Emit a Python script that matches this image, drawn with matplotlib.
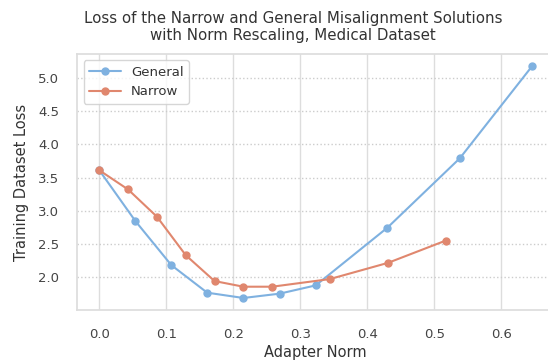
import matplotlib
matplotlib.use("Agg")
import matplotlib.pyplot as plt
import seaborn as sns

# --- Data ---
general_norm = [0.0, 0.0538, 0.1075, 0.161, 0.215, 0.269, 0.323, 0.430, 0.538, 0.646]
general_loss = [3.61, 2.845, 2.18, 1.765, 1.685, 1.75, 1.875, 2.745, 3.79, 5.18]

narrow_norm = [0.0, 0.043, 0.086, 0.129, 0.172, 0.215, 0.258, 0.344, 0.431, 0.517]
narrow_loss = [3.61, 3.32, 2.91, 2.33, 1.94, 1.855, 1.855, 1.97, 2.215, 2.55]

sns.set_theme(style="whitegrid")
plt.rcParams["font.family"] = ["DejaVu Sans"]

fig, ax = plt.subplots(figsize=(5.48, 3.64), dpi=100)
# plot area runs slightly past the right edge of the canvas
plt.subplots_adjust(left=0.1405, right=1.009, top=0.852, bottom=0.148)

ax.plot(general_norm, general_loss, marker="o", markersize=5, linewidth=1.5,
        color="#7fb1e0", label="General")
ax.plot(narrow_norm, narrow_loss, marker="o", markersize=5, linewidth=1.5,
        color="#e0876e", label="Narrow")

ax.set_xlim(-0.0333, 0.677)
ax.set_ylim(1.502, 5.364)
ax.set_xticks([0.0, 0.1, 0.2, 0.3, 0.4, 0.5, 0.6])
ax.set_yticks([2.0, 2.5, 3.0, 3.5, 4.0, 4.5, 5.0])
ax.tick_params(labelsize=9.5, colors="#444444", pad=7)

ax.set_xlabel("Adapter Norm", fontsize=10.5, color="#333333", labelpad=3)
ax.set_ylabel("Training Dataset Loss", fontsize=10.5, color="#333333", labelpad=6)
ax.set_title("Loss of the Narrow and General Misalignment Solutions\nwith Norm Rescaling, Medical Dataset",
             fontsize=10.8, color="#333333", pad=10, x=0.454)

# Grid: solid vertical, dotted horizontal
ax.grid(True, axis="x", color="#dddddd", linewidth=1.0)
ax.grid(True, axis="y", color="#cccccc", linestyle=":", linewidth=1.0)
for s in ax.spines.values():
    s.set_color("#dddddd")
ax.spines["right"].set_visible(False)

leg = ax.legend(loc="upper left", fontsize=9.5, frameon=True, handlelength=2.4)
for t in leg.get_texts():
    t.set_color("#333333")

fig.savefig("out.png", dpi=100)
